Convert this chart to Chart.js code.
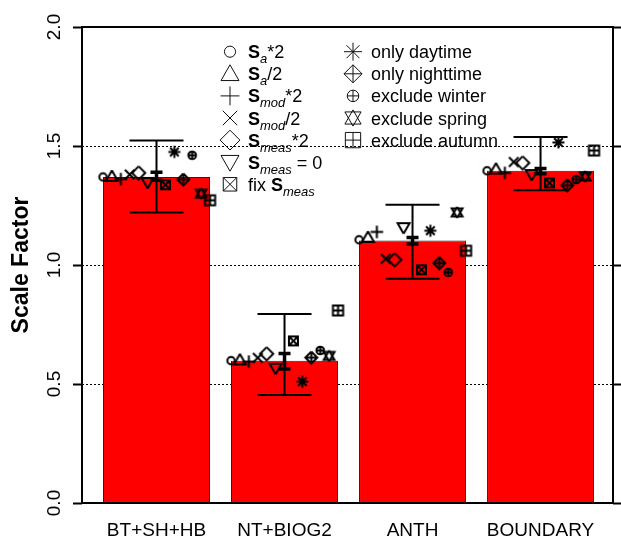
<!DOCTYPE html>
<html>
<head>
<meta charset="utf-8">
<script src="https://cdn.jsdelivr.net/npm/chart.js@4.4.0/dist/chart.umd.min.js"></script>
<style>
  html, body { margin: 0; padding: 0; background: #fff; }
  #wrap { width: 621px; height: 541px; position: relative; }
</style>
</head>
<body>
<div id="wrap"><canvas id="myChart"></canvas></div>
<script>

// Data

const categories = ['BT+SH+HB', 'NT+BIOG2', 'ANTH', 'BOUNDARY'];
const yTicks = [0, 0.5, 1.0, 1.5, 2.0];

const scaleFactor = [1.370, 0.598, 1.103, 1.396];
const errLow  = [1.221, 0.454, 0.942, 1.314];
const errHigh = [1.523, 0.794, 1.253, 1.538];
const postLow  = [1.356, 0.563, 1.088, 1.383];
const postHigh = [1.390, 0.628, 1.116, 1.405];

// sensitivity runs
const saTimes2     = [1.370, 0.598, 1.106, 1.396];
const saHalf       = [1.372, 0.601, 1.116, 1.403];
const smodTimes2   = [1.361, 0.594, 1.139, 1.387];
const smodHalf     = [1.380, 0.610, 1.026, 1.433];
const smeasTimes2  = [1.387, 0.627, 1.022, 1.429];
const smeasZero    = [1.347, 0.566, 1.157, 1.380];
const fixSmeas     = [1.337, 0.681, 0.980, 1.345];
const onlyDaytime  = [1.475, 0.510, 1.144, 1.515];
const onlyNight    = [1.359, 0.611, 1.008, 1.335];
const exclWinter   = [1.461, 0.641, 0.969, 1.359];
const exclSpring   = [1.300, 0.618, 1.221, 1.372];
const exclAutumn   = [1.272, 0.809, 1.060, 1.481];

const sensLabels = ['S{a}*2', 'S{a}/2', 'S{mod}*2', 'S{mod}/2', 'S{meas}*2', 'S{meas} = 0', 'fix S{meas}',
                    'only daytime', 'only nighttime', 'exclude winter', 'exclude spring', 'exclude autumn'];
const sensValues = [saTimes2, saHalf, smodTimes2, smodHalf, smeasTimes2, smeasZero, fixSmeas,
                    onlyDaytime, onlyNight, exclWinter, exclSpring, exclAutumn];
const sensSymbols = ['circle', 'triangle', 'plus', 'cross', 'diamond', 'triDown', 'boxCross',
                     'asterisk', 'diamondPlus', 'circlePlus', 'starDavid', 'boxPlus'];

// Drawing helpers

const FONT = "'Liberation Sans', Arial, sans-serif";
const barFrac = 0.836;
const slotStep = barFrac / 12;
const slots = [0, 1, 2, 3, 4, 5, 7, 8, 9, 10, 11, 12];

function drawSymbol(ctx, kind, x, y, r) {
    const mv = (a, b) => ctx.moveTo(x + a, y + b);
    const ln = (a, b) => ctx.lineTo(x + a, y + b);
    const plus = k => { mv(-k, 0); ln(k, 0); mv(0, -k); ln(0, k); };
    const cross = k => { mv(-k, -k); ln(k, k); mv(-k, k); ln(k, -k); };
    const circ = k => { ctx.moveTo(x + k, y); ctx.arc(x, y, k, 0, Math.PI * 2); };
    const tri = (k, d) => { mv(0, -d * k); ln(k, d * 0.75 * k); ln(-k, d * 0.75 * k); ln(0, -d * k); };
    const diamond = k => { mv(0, -k); ln(k, 0); ln(0, k); ln(-k, 0); ln(0, -k); };
    const box = k => { ctx.rect(x - k, y - k, 2 * k, 2 * k); };
    ctx.beginPath();
    switch (kind) {
        case 'circle': circ(0.62 * r); break;
        case 'triangle': tri(r, 1); break;
        case 'plus': plus(1.05 * r); break;
        case 'cross': cross(0.8 * r); break;
        case 'diamond': diamond(1.1 * r); break;
        case 'triDown': tri(r, -1); break;
        case 'boxCross': box(0.75 * r); cross(0.75 * r); break;
        case 'asterisk': plus(1.0 * r); cross(0.72 * r); break;
        case 'diamondPlus': diamond(r); plus(r); break;
        case 'circlePlus': circ(0.64 * r); plus(0.64 * r); break;
        case 'starDavid': tri(0.9 * r, 1); tri(0.9 * r, -1); break;
        case 'boxPlus': box(0.85 * r); plus(0.85 * r); break;
    }
    ctx.stroke();
}

function symbolCanvas(kind, r, lw) {
    const size = Math.ceil(r * 2.6 + lw * 2) | 1;
    const c = document.createElement('canvas');
    c.width = size; c.height = size;
    const g = c.getContext('2d');
    g.strokeStyle = '#000';
    g.lineWidth = lw;
    g.lineJoin = 'miter';
    drawSymbol(g, kind, size / 2, size / 2, r);
    return c;
}

// draws "S{sub}" style label, S bold + italic subscript
function drawRichLabel(ctx, label, x, y) {
    const m = label.match(/^(.*?)S\{(\w+)\}(.*)$/);
    const parts = m
        ? [[m[1], '18px'], ['S', 'bold 18px'], [m[2], 'italic 13px', 5], [m[3], '18px']]
        : [[label, '18px']];
    let cx = x;
    parts.forEach(([t, f, dy]) => {
        if (!t) return;
        ctx.font = f + ' ' + FONT;
        ctx.fillText(t, cx, y + (dy || 0));
        cx += ctx.measureText(t).width;
    });
}

// Plugins

const errorBars = {
    id: 'errorBars',
    afterDatasetDraw(chart, args) {
        if (args.index !== 0) return;
        const {ctx, scales: {x, y}} = chart;
        ctx.save();
        ctx.strokeStyle = '#000';
        categories.forEach((c, i) => {
            const px = x.getPixelForValue(i + 1);
            const lo = y.getPixelForValue(errLow[i]);
            const hi = y.getPixelForValue(errHigh[i]);
            ctx.lineWidth = 2;
            ctx.beginPath();
            ctx.moveTo(px, lo); ctx.lineTo(px, hi);
            ctx.moveTo(px - 27, lo); ctx.lineTo(px + 27, lo);
            ctx.moveTo(px - 27, hi); ctx.lineTo(px + 27, hi);
            ctx.stroke();
            const plo = y.getPixelForValue(postLow[i]);
            const phi = y.getPixelForValue(postHigh[i]);
            ctx.lineWidth = 3.5;
            ctx.beginPath();
            ctx.moveTo(px, plo); ctx.lineTo(px, phi);
            ctx.moveTo(px - 6, plo); ctx.lineTo(px + 6, plo);
            ctx.moveTo(px - 6, phi); ctx.lineTo(px + 6, phi);
            ctx.stroke();
        });
        ctx.restore();
    }
};

const frameAndLegend = {
    id: 'frameAndLegend',
    afterDraw(chart) {
        const {ctx, chartArea: a} = chart;
        ctx.save();
        ctx.strokeStyle = '#000';
        ctx.lineWidth = 2;
        ctx.strokeRect(a.left, a.top, a.right - a.left, a.bottom - a.top);

        // legend, two columns
        ctx.fillStyle = '#000';
        ctx.textBaseline = 'alphabetic';
        sensLabels.forEach((lab, k) => {
            const col = k < 7 ? 0 : 1;
            const row = col === 0 ? k : k - 7;
            const rowY = 51.7 + row * 22.1;
            const symX = col === 0 ? 230 : 353;
            const txtX = col === 0 ? 248 : 371;
            ctx.strokeStyle = '#111';
            ctx.lineWidth = 1;
            drawSymbol(ctx, sensSymbols[k], symX, rowY, 9);
            drawRichLabel(ctx, lab, txtX, rowY + 6.5);
        });
        ctx.restore();
    }
};

// Chart.js Setting

const ctx = document.getElementById('myChart');

const scatterSets = sensValues.map((vals, k) => ({
    type: 'scatter',
    label: sensLabels[k],
    order: 0,
    data: vals.map((v, i) => ({x: i + 1 + (slots[k] - 6) * slotStep, y: v})),
    pointStyle: symbolCanvas(sensSymbols[k], 6, 2),
    pointRadius: 6,
    showLine: false
}));

const myChart = new Chart(ctx, {
    type: 'bar',
    data: {
        datasets: [{
            type: 'bar',
            label: 'Scale Factor',
            order: 1,
            data: scaleFactor.map((v, i) => ({x: i + 1, y: v})),
            backgroundColor: '#ff0000',
            borderColor: '#222',
            borderWidth: 1,
            barPercentage: 1,
            categoryPercentage: barFrac
        }, ...scatterSets]
    },
    options: {
        responsive: true,
        maintainAspectRatio: false,
        animation: false,
        layout: { padding: {top: 27, left: 0, right: 0, bottom: 0} },
        plugins: {
            legend: { display: false },
            tooltip: { enabled: false }
        },
        scales: {
            x: {
                type: 'linear',
                min: 0.418,
                max: 4.566,
                offset: false,
                afterBuildTicks: s => { s.ticks = categories.map((c, i) => ({value: i + 1})); },
                ticks: {
                    callback: v => categories[v - 1],
                    font: {family: FONT, size: 19},
                    color: '#000',
                    padding: 16,
                    maxRotation: 0,
                    autoSkip: false
                },
                grid: { display: false, drawTicks: false },
                border: { display: false },
                afterFit: s => { s.height = 38; }
            },
            y: {
                position: 'left',
                min: 0,
                max: 2,
                afterBuildTicks: s => { s.ticks = yTicks.map(v => ({value: v})); },
                ticks: {
                    callback: v => v.toFixed(1),
                    minRotation: 90,
                    maxRotation: 90,
                    crossAlign: 'center',
                    padding: 5,
                    font: {family: FONT, size: 19},
                    color: '#000'
                },
                grid: {
                    color: '#000',
                    lineWidth: 1,
                    tickLength: 9,
                    tickColor: '#000',
                    tickWidth: 2,
                    tickBorderDash: []
                },
                border: { display: false, dash: [2, 2] },
                title: {
                    display: true,
                    text: 'Scale Factor',
                    font: {family: FONT, size: 23, weight: 'bold'},
                    color: '#000',
                    padding: {top: 8, bottom: 0}
                },
                afterFit: s => { s.width = 82; }
            },
            y2: {
                position: 'right',
                min: 0,
                max: 2,
                afterBuildTicks: s => { s.ticks = yTicks.map(v => ({value: v})); },
                ticks: { display: false },
                grid: { drawOnChartArea: false, tickLength: 8, tickColor: '#000', tickWidth: 2 },
                border: { display: false },
                afterFit: s => { s.width = 8; }
            }
        }
    },
    plugins: [errorBars, frameAndLegend]
});

</script>
</body>
</html>
